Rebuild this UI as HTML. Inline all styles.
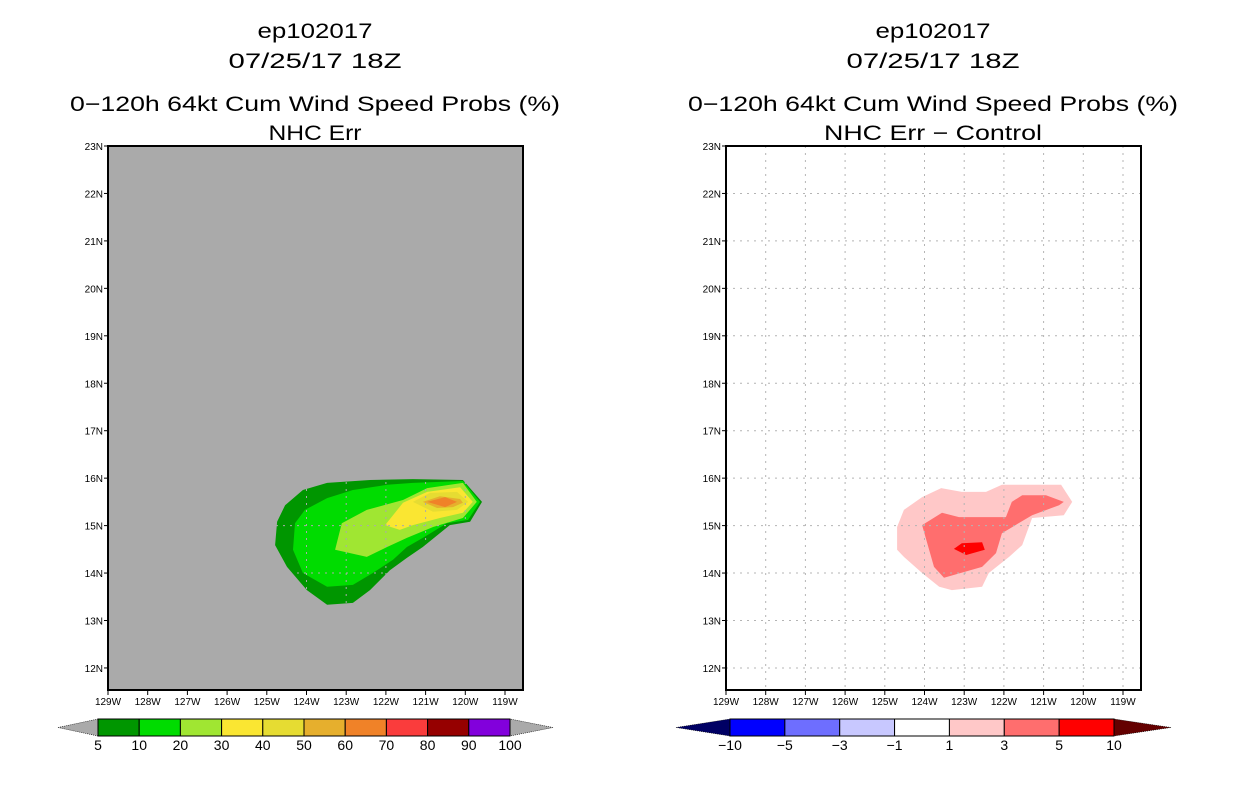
<!DOCTYPE html>
<html><head><meta charset="utf-8"><style>
body{margin:0;background:#fff;width:1236px;height:800px;overflow:hidden}
svg{display:block}
text{font-family:"Liberation Sans",sans-serif}
</style></head><body>
<svg id="s" width="1236" height="800" xmlns="http://www.w3.org/2000/svg"></svg>
<script>
const lonTicks=[129,128,127,126,125,124,123,122,121,120,119];
const latTicks=[23,22,21,20,19,18,17,16,15,14,13,12];
const leftLevels=[5,10,20,30,40,50,60];
const leftColors=["#009600","#00dc00","#a0e632","#fae632","#e6dc32","#e6af2d","#f08228"];
const leftLon5=[124.79,124.74,124.54,124.09,123.48,122.40,121.32,120.06,119.58,119.88,120.39,121.07,121.47,121.90,122.40,122.83,123.48,123.99,124.49];
const leftLat5=[14.59,15.08,15.43,15.75,15.90,15.96,15.98,15.96,15.50,15.08,15.01,14.55,14.32,14.06,13.64,13.37,13.33,13.64,14.13];
const leftLon10=[124.34,124.29,124.04,123.48,122.83,121.97,121.32,120.06,119.63,119.93,120.46,121.07,121.47,121.82,122.33,122.83,123.48,124.09];
const leftLat10=[14.49,15.05,15.33,15.58,15.75,15.86,15.90,15.94,15.50,15.12,15.05,14.74,14.55,14.28,14.00,13.75,13.71,14.00];
const leftLon20=[123.28,123.11,122.48,121.57,120.96,120.06,119.71,120.06,120.81,121.47,121.97,122.48];
const leftLat20=[14.49,15.05,15.33,15.54,15.79,15.90,15.50,15.16,14.97,14.74,14.55,14.34];
const leftLon30=[122.02,121.57,120.96,120.13,119.81,120.06,120.64,121.32,121.65];
const leftLat30=[15.01,15.48,15.71,15.81,15.50,15.27,15.16,15.01,14.91];
const leftLon40=[121.32,120.89,120.21,119.93,120.21,120.81];
const leftLat40=[15.50,15.69,15.71,15.50,15.33,15.29];
const leftLon50=[121.07,120.64,120.13,120.06,120.31,120.71];
const leftLat50=[15.50,15.62,15.56,15.48,15.39,15.37];
const leftLon60=[120.96,120.51,120.21,120.51];
const leftLat60=[15.50,15.60,15.50,15.39];
const rightLevels=[1,3,5];
const rightColors=["#ffc8c8","#ff6e6e","#ff0000"];
const rightLon1=[124.69,124.69,124.52,124.06,123.58,123.06,122.45,122.05,120.56,120.28,120.49,121.29,121.54,121.87,122.38,122.55,123.31,123.63,124.06,124.52];
const rightLat1=[14.49,14.97,15.33,15.60,15.79,15.71,15.71,15.86,15.86,15.50,15.22,15.16,14.59,14.34,14.00,13.71,13.64,13.71,14.00,14.34];
const rightLon3=[124.06,123.56,123.13,121.95,121.80,121.54,120.94,120.49,120.61,121.29,122.05,122.20,122.55,123.51,123.76];
const rightLat3=[15.01,15.27,15.18,15.18,15.50,15.64,15.64,15.50,15.43,15.22,14.84,14.42,14.13,13.90,14.13];
const rightLon5=[123.26,123.06,122.55,122.48,122.95];
const rightLat5=[14.51,14.63,14.65,14.49,14.38];
const leftBarLabels=["5","10","20","30","40","50","60","70","80","90","100"];
const leftBarColors=["#009600","#00dc00","#a0e632","#fae632","#e6dc32","#e6af2d","#f08228","#fa3c3c","#960000","#8200dc"];
const rightBarLabels=["\u221210","\u22125","\u22123","\u22121","1","3","5","10"];
const rightBarColors=["#0000ff","#6e6eff","#c8c8ff","#ffffff","#ffc8c8","#ff6e6e","#ff0000"];

const S=document.getElementById('s');const NS="http://www.w3.org/2000/svg";
function mk(t,a,p){const e=document.createElementNS(NS,t);for(const k in a)e.setAttribute(k,a[k]);(p||S).appendChild(e);return e;}
const W=415,H=544,TOP=146;
function xs(x0){return lonW=>x0+(129-lonW)*39.7;}
function ys(lat){return TOP+(23-lat)*47.45;}
function txt(x,y,s,size,anchor,name,len){const t=mk('text',{x:x,y:y,'font-size':size,'text-anchor':anchor||'middle',fill:'#000'});t.textContent=s;
if(len){t.setAttribute('textLength',len);t.setAttribute('lengthAdjust','spacingAndGlyphs');}

return t;}

function panel(x0,bg,polys,colors,title2,t2len,pfx){
  const X=xs(x0);
  const g=mk('g',{});
  
  
  txt(x0+207,38,"ep102017",21,'middle',pfx+'-storm-id',115);
  txt(x0+207,68,"07/25/17 18Z",21,'middle',pfx+'-date',173);
  txt(x0+207,111,"0\u2212120h 64kt Cum Wind Speed Probs (%)",21,'middle',pfx+'-title',490);
  txt(x0+207,140,title2,21,'middle',pfx+'-subtitle',t2len);
  const bgR=mk('rect',{x:x0,y:TOP,width:W,height:H,fill:bg},g);
  
  
  polys.forEach((p,i)=>{const pts=p[0].map((lo,j)=>X(lo).toFixed(1)+','+ys(p[1][j]).toFixed(1)).join(' ');
    const e=mk('polygon',{points:pts,fill:colors[i]},g);
    
    });
  const gc=bg==='#fff'?'#b4b4b4':'#aaaaaa';
  lonTicks.forEach(l=>{const x=X(l);if(l<129){const e=mk('line',{x1:x,y1:TOP,x2:x,y2:TOP+H,stroke:gc,'stroke-dasharray':'2,5'},g);
    
    }
    mk('line',{x1:x,y1:TOP+H,x2:x,y2:TOP+H+5,stroke:'#000'},g);
    txt(x,TOP+H+15,l+"W",10,'middle','lon-tick-label');});
  latTicks.forEach(l=>{const y=ys(l);if(l<23){const e=mk('line',{x1:x0,y1:y,x2:x0+W,y2:y,stroke:gc,'stroke-dasharray':'2,5'},g);
    
    }
    mk('line',{x1:x0-4,y1:y,x2:x0,y2:y,stroke:'#000'},g);
    txt(x0-5,y+4,l+"N",10,'end','lat-tick-label');});
  const f=mk('rect',{x:x0,y:TOP,width:W,height:H,fill:'none',stroke:'#000','stroke-width':2},g);
  
  
}
panel(108,'#aaaaaa',[[leftLon5,leftLat5,5],[leftLon10,leftLat10,10],[leftLon20,leftLat20,20],[leftLon30,leftLat30,30],[leftLon40,leftLat40,40],[leftLon50,leftLat50,50],[leftLon60,leftLat60,60]],leftColors,"NHC Err",93,'left');
panel(726,'#fff',[[rightLon1,rightLat1,1],[rightLon3,rightLat3,3],[rightLon5,rightLat5,5]],rightColors,"NHC Err \u2212 Control",218,'right');

function colorbar(x0,x1,tL,tR,cols,labels,lc,rc,pfx){
  const y0=719,y1=736,ym=727.5,bw=(x1-x0)/cols.length;
  let e=mk('polygon',{points:`${tL},${ym} ${x0},${y0} ${x0},${y1}`,fill:lc,stroke:'#000','stroke-dasharray':'1,1','stroke-width':0.6});
  
  
  e=mk('polygon',{points:`${tR},${ym} ${x1},${y0} ${x1},${y1}`,fill:rc,stroke:'#000','stroke-dasharray':'1,1','stroke-width':0.6});
  
  
  cols.forEach((c,i)=>{const r=mk('rect',{x:x0+i*bw,y:y0,width:bw,height:y1-y0,fill:c,stroke:'#000','stroke-width':1});
    
    });
  labels.forEach((s,i)=>txt(x0+i*bw,750,s,14,'middle',pfx+'-colorbar-label'));
}
colorbar(98,510,58,553,leftBarColors,leftBarLabels,'#aaaaaa','#aaaaaa','left');
colorbar(730,1114,676,1171,rightBarColors,rightBarLabels,'#000064','#640000','right');
</script>
</body></html>
